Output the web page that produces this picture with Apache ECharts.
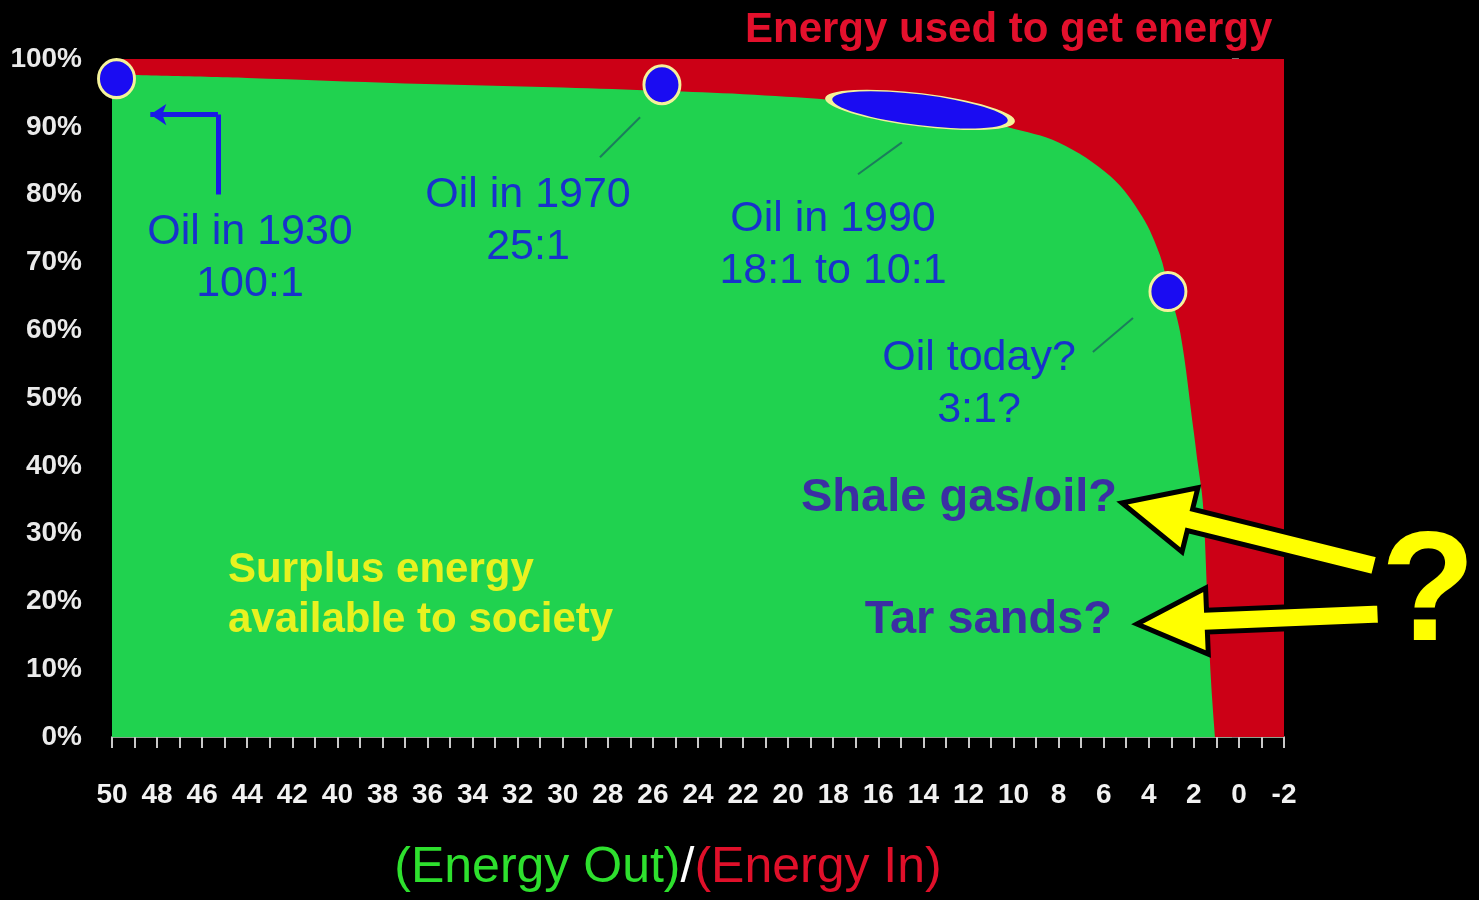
<!DOCTYPE html>
<html>
<head>
<meta charset="utf-8">
<title>Energy Out / Energy In</title>
<script src="https://cdn.jsdelivr.net/npm/echarts@6/dist/echarts.min.js"></script>
<style>
    html, body { margin: 0; padding: 0; background: #000; }
    #chart { width: 1479px; height: 900px; }
</style>
</head>
<body>
<div id="chart"></div>
<script>
    // surplus curve: EROI (energy out / energy in) -> % left for society
    let eroi = [50, 44, 37, 30, 25.6, 22, 18.2, 14, 12, 10.2, 8, 5.7, 4.3, 3.5, 3.15, 2.6, 2.0, 1.85, 1.6, 1.4, 1.24, 1.06];
    let surplus = [97.7, 97.2, 96.4, 95.8, 95.3, 94.8, 94.0, 92.6, 91.5, 89.9, 87.7, 82.7, 76.8, 71, 66.5, 59.6, 44.9, 40.9, 34.5, 20.2, 8.4, 0];

    // oil markers
    let oilNames = ['1930', '1970', '1990', 'today'];
    let oilEroi = [49.8, 25.6, 14.15, 3.15];
    let oilSurplus = [97.1, 96.2, 92.5, 65.7];

    // axis ranges
    let xMin = -2, xMax = 50, xStep = 2;
    let yMin = 0, yMax = 100, yStep = 10;

    // little pointer lines from the labels to the markers (data coords)
    let pointerFrom = [[28.35, 85.5], [16.9, 83.0], [6.48, 56.8]];
    let pointerTo = [[26.57, 91.4], [14.95, 87.7], [4.70, 61.8]];

    let narrow = "'Liberation Sans Narrow', 'Liberation Sans', Arial, sans-serif";
    let sans = "'Liberation Sans', Arial, sans-serif";
    let blue = '#1832cc';

    function arrow(tail, tip) {
        let dx = tip[0] - tail[0], dy = tip[1] - tail[1];
        let len = Math.sqrt(dx * dx + dy * dy);
        let ux = dx / len, uy = dy / len, nx = -uy, ny = ux;
        let sw = 11, hw = 33, hl = 70;
        let bx = tip[0] - ux * hl, by = tip[1] - uy * hl;
        return [
            [tail[0] + nx * sw, tail[1] + ny * sw],
            [bx + nx * sw, by + ny * sw],
            [bx + nx * hw, by + ny * hw],
            tip,
            [bx - nx * hw, by - ny * hw],
            [bx - nx * sw, by - ny * sw],
            [tail[0] - nx * sw, tail[1] - ny * sw]
        ];
    }

    function label(text, x, y, color, size, weight, align) {
        return {
            type: 'text', z: 100,
            style: {
                text: text, x: x, y: y, fill: color,
                fontSize: size, fontWeight: weight || 'normal', fontFamily: sans,
                align: align || 'center', verticalAlign: 'middle',
                lineHeight: Math.round(size * 1.2)
            }
        };
    }

    let curve = eroi.map(function (v, i) { return [v, surplus[i]]; });
    let dots = oilNames.map(function (n, i) {
        let item = { name: n, value: [oilEroi[i], oilSurplus[i]] };
        if (n === '1990') {
            item.symbolSize = [184, 32];
            item.symbolRotate = -7;
        }
        return item;
    });
    let pointers = pointerFrom.map(function (p, i) { return { coords: [p, pointerTo[i]] }; });

    let chart = echarts.init(document.getElementById('chart'));
    let option = {
        backgroundColor: '#000',
        animation: false,
        grid: { left: 112, right: 195, top: 59, bottom: 163 },
        xAxis: {
            type: 'value',
            inverse: true,
            min: xMin, max: xMax, interval: xStep,
            axisLine: { show: true, lineStyle: { color: '#8fa08f', width: 2 } },
            axisTick: { show: true, length: 11, lineStyle: { color: '#c8c8c8', width: 2 } },
            minorTick: { show: true, splitNumber: 2, length: 11, lineStyle: { color: '#c8c8c8', width: 2 } },
            splitLine: { show: false },
            axisLabel: {
                margin: 44, color: '#f2f2f2',
                fontSize: 28, fontWeight: 'bold', fontFamily: narrow
            }
        },
        yAxis: {
            type: 'value',
            min: yMin, max: yMax, interval: yStep,
            axisLine: { show: false },
            axisTick: { show: true, length: 7, lineStyle: { color: '#777', width: 2 } },
            splitLine: { show: false },
            axisLabel: {
                margin: 30, color: '#eaeaea',
                fontSize: 28, fontWeight: 'bold', fontFamily: narrow,
                formatter: '{value}%'
            }
        },
        series: [
            {
                name: 'energy in',
                type: 'line', z: 1,
                symbol: 'none', silent: true,
                lineStyle: { width: 0 },
                areaStyle: { color: '#cc0016', opacity: 1 },
                data: [[xMax, 100], [xMin, 100]]
            },
            {
                name: 'surplus',
                type: 'line', z: 2,
                symbol: 'none', smooth: 0.35,
                lineStyle: { width: 0 },
                areaStyle: { color: '#20d24f', opacity: 1 },
                data: curve
            },
            {
                name: 'pointers',
                type: 'lines', z: 3,
                coordinateSystem: 'cartesian2d',
                lineStyle: { color: '#1b7d5c', width: 2, opacity: 1 },
                data: pointers
            },
            {
                name: '1930 arrow',
                type: 'lines', z: 3,
                coordinateSystem: 'cartesian2d',
                lineStyle: { color: '#1a1ae6', width: 5, opacity: 1 },
                symbol: ['none', 'arrow'],
                symbolSize: 16,
                data: [
                    { coords: [[45.3, 80], [45.3, 91.8]], symbol: ['none', 'none'] },
                    { coords: [[45.3, 91.8], [48.3, 91.8]] }
                ]
            },
            {
                name: 'oil',
                type: 'scatter', z: 4,
                symbol: 'circle', symbolSize: [36, 38],
                itemStyle: { color: '#1a0cf2', borderColor: '#f4f29a', borderWidth: 3, opacity: 1 },
                data: dots
            }
        ],
        graphic: [
            label('Energy used to get energy', 745, 30, '#e3102c', 42, 'bold', 'left'),
            label('Oil in 1930\n100:1', 250, 258, blue, 43),
            label('Oil in 1970\n25:1', 528, 221, blue, 43),
            label('Oil in 1990\n18:1 to 10:1', 833, 245, blue, 43),
            label('Oil today?\n3:1?', 979, 384, blue, 43),
            label('Surplus energy\navailable to society', 228, 595, '#e8f220', 42, 'bold', 'left'),
            label('Shale gas/oil?', 1117, 498, '#3b2fa3', 47, 'bold', 'right'),
            label('Tar sands?', 1112, 620, '#3b2fa3', 47, 'bold', 'right'),
            {
                type: 'polygon', z: 100,
                shape: { points: arrow([1376, 566], [1122, 503]) },
                style: { fill: '#ffff00', stroke: '#000', lineWidth: 5 }
            },
            {
                type: 'polygon', z: 100,
                shape: { points: arrow([1380, 614], [1137, 624]) },
                style: { fill: '#ffff00', stroke: '#000', lineWidth: 5 }
            },
            label('?', 1428, 597, '#ffff00', 155, 'bold'),
            {
                type: 'text', z: 100,
                style: {
                    text: '{g|(Energy Out)}{w|/}{r|(Energy In)}',
                    x: 668, y: 868, align: 'center', verticalAlign: 'middle',
                    fontSize: 50, fontFamily: sans,
                    rich: {
                        g: { fill: '#2ee02e', fontSize: 50, fontFamily: sans },
                        w: { fill: '#ffffff', fontSize: 50, fontFamily: sans },
                        r: { fill: '#e0102a', fontSize: 50, fontFamily: sans }
                    }
                }
            }
        ]
    };
    chart.setOption(option, true);
    window.addEventListener('resize', function () {
        chart.resize();
    });
</script>
</body>
</html>
